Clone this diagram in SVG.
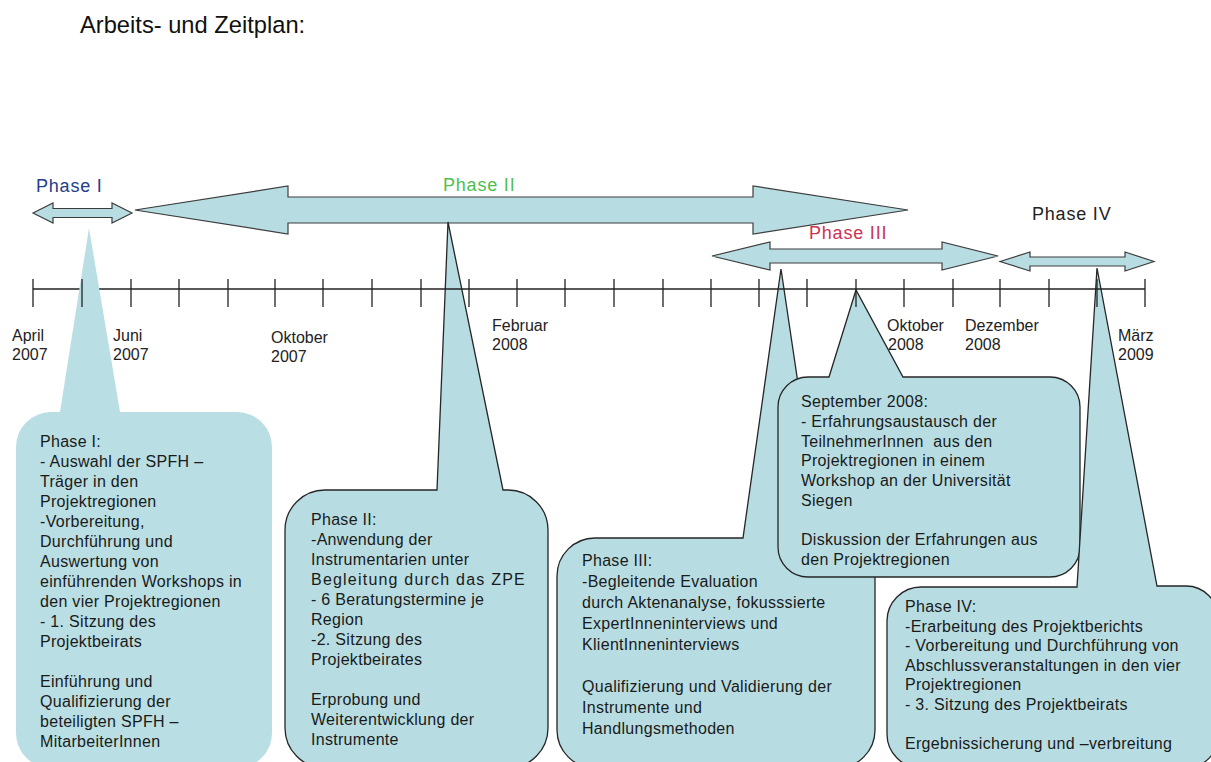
<svg xmlns="http://www.w3.org/2000/svg" width="1211" height="762" viewBox="0 0 1211 762">
  <style>
    text { font-family: "Liberation Sans", Arial, sans-serif; }
    .title { font-size: 23.7px; fill: #111; }
    .phase { font-size: 18px; letter-spacing: 0.8px; }
    .month { font-size: 16px; fill: #222; }
    .body { font-size: 16px; fill: #1a1a1a; letter-spacing: 0.3px; }
    .arrow { fill: #B7DDE2; stroke: #3c3c3c; stroke-width: 1.2; stroke-linejoin: miter; }
    .callout { fill: #B7DDE2; stroke: #262626; stroke-width: 1.3; }
    .callout-soft { fill: #B9DEE3; stroke: none; }
    .axis { stroke: #222; stroke-width: 1.3; fill: none; }
  </style>
  <rect width="1211" height="762" fill="#ffffff"/>

  <text id="title" class="title" x="80" y="33">Arbeits- und Zeitplan:</text>

  <!-- phase duration arrows -->
  <g id="phase1-arrow">
    <path class="arrow" d="M33,213 L53,203 L53,208.5 L112,208.5 L112,203 L132,213 L112,223 L112,217.5 L53,217.5 L53,223 Z"/>
  </g>
  <g id="phase2-arrow">
    <path class="arrow" d="M135,210 L288,186 L288,197 L753,197 L753,186 L908,210 L753,234 L753,223 L288,223 L288,234 Z"/>
  </g>
  <g id="phase3-arrow">
    <path class="arrow" d="M712,256 L770,242 L770,249 L942,249 L942,242 L998,256 L942,270 L942,263 L770,263 L770,270 Z"/>
  </g>
  <g id="phase4-arrow">
    <path class="arrow" d="M1000,261.5 L1030,252 L1030,257 L1125,257 L1125,252 L1154,261.5 L1125,271 L1125,266 L1030,266 L1030,271 Z"/>
  </g>

  <!-- callouts with outline -->
  <g id="callout-phase2">
    <path class="callout" d="M325,490 H437 L448,222 L503,490 H508 A40,40 0 0 1 548,530 V728 A40,40 0 0 1 508,768 H325 A40,40 0 0 1 285,728 V530 A40,40 0 0 1 325,490 Z"/>
    <text class="body" x="311" y="525">
      <tspan x="311" dy="0">Phase II:</tspan>
      <tspan x="311" dy="20">-Anwendung der</tspan>
      <tspan x="311" dy="20">Instrumentarien unter</tspan>
      <tspan x="311" dy="20" textLength="214" lengthAdjust="spacing">Begleitung durch das ZPE</tspan>
      <tspan x="311" dy="20">- 6 Beratungstermine je</tspan>
      <tspan x="311" dy="20">Region</tspan>
      <tspan x="311" dy="20">-2. Sitzung des</tspan>
      <tspan x="311" dy="20">Projektbeirates</tspan>
      <tspan x="311" dy="40">Erprobung und</tspan>
      <tspan x="311" dy="20">Weiterentwicklung der</tspan>
      <tspan x="311" dy="20">Instrumente</tspan>
    </text>
  </g>

  <g id="callout-phase3">
    <path class="callout" d="M595,538 H743 L781,269 L821,538 H837 A38,38 0 0 1 875,576 V730 A38,38 0 0 1 837,768 H595 A38,38 0 0 1 557,730 V576 A38,38 0 0 1 595,538 Z"/>
    <text class="body" x="582" y="566">
      <tspan x="582" dy="0">Phase III:</tspan>
      <tspan x="582" dy="21">-Begleitende Evaluation</tspan>
      <tspan x="582" dy="21">durch Aktenanalyse, fokusssierte</tspan>
      <tspan x="582" dy="21">ExpertInneninterviews und</tspan>
      <tspan x="582" dy="21">KlientInneninterviews</tspan>
      <tspan x="582" dy="42">Qualifizierung und Validierung der</tspan>
      <tspan x="582" dy="21">Instrumente und</tspan>
      <tspan x="582" dy="21">Handlungsmethoden</tspan>
    </text>
  </g>

  <g id="callout-september">
    <path class="callout" d="M808,377 H829 L856,290 L903,377 H1050 A30,30 0 0 1 1080,407 V547 A30,30 0 0 1 1050,577 H808 A30,30 0 0 1 778,547 V407 A30,30 0 0 1 808,377 Z"/>
    <text class="body" x="801" y="407">
      <tspan x="801" dy="0">September 2008:</tspan>
      <tspan x="801" dy="19.75">- Erfahrungsaustausch der</tspan>
      <tspan x="801" dy="19.75">TeilnehmerInnen&#160; aus den</tspan>
      <tspan x="801" dy="19.75">Projektregionen in einem</tspan>
      <tspan x="801" dy="19.75">Workshop an der Universität</tspan>
      <tspan x="801" dy="19.75">Siegen</tspan>
      <tspan x="801" dy="39.5">Diskussion der Erfahrungen aus</tspan>
      <tspan x="801" dy="19.75">den Projektregionen</tspan>
    </text>
  </g>

  <g id="callout-phase4">
    <path class="callout" d="M921,587 H1077 L1097,268 L1157,586 H1186 A32,32 0 0 1 1218,619 V736 A32,32 0 0 1 1186,768 H921 A34,34 0 0 1 887,734 V621 A34,34 0 0 1 921,587 Z"/>
    <text class="body" x="905" y="612">
      <tspan x="905" dy="0">Phase IV:</tspan>
      <tspan x="905" dy="19.5">-Erarbeitung des Projektberichts</tspan>
      <tspan x="905" dy="19.5">- Vorbereitung und Durchführung von</tspan>
      <tspan x="905" dy="19.5">Abschlussveranstaltungen in den vier</tspan>
      <tspan x="905" dy="19.5">Projektregionen</tspan>
      <tspan x="905" dy="19.5">- 3. Sitzung des Projektbeirats</tspan>
      <tspan x="905" dy="39">Ergebnissicherung und –verbreitung</tspan>
    </text>
  </g>

  <!-- month axis -->
  <g id="timeline-axis">
    <line class="axis" x1="33" y1="289" x2="1145" y2="289"/>
  </g>

  <!-- phase I callout, drawn without outline over the axis line -->
  <g id="callout-phase1">
    <path class="callout-soft" d="M51,412 H60 L89,228 L120,412 H237 A35,35 0 0 1 272,447 V733 A35,35 0 0 1 237,768 H51 A35,35 0 0 1 16,733 V447 A35,35 0 0 1 51,412 Z"/>
    <text class="body" x="40" y="447">
      <tspan x="40" dy="0">Phase I:</tspan>
      <tspan x="40" dy="20">- Auswahl der SPFH –</tspan>
      <tspan x="40" dy="20">Träger in den</tspan>
      <tspan x="40" dy="20">Projektregionen</tspan>
      <tspan x="40" dy="20">-Vorbereitung,</tspan>
      <tspan x="40" dy="20">Durchführung und</tspan>
      <tspan x="40" dy="20">Auswertung von</tspan>
      <tspan x="40" dy="20">einführenden Workshops in</tspan>
      <tspan x="40" dy="20">den vier Projektregionen</tspan>
      <tspan x="40" dy="20">- 1. Sitzung des</tspan>
      <tspan x="40" dy="20">Projektbeirats</tspan>
      <tspan x="40" dy="40">Einführung und</tspan>
      <tspan x="40" dy="20">Qualifizierung der</tspan>
      <tspan x="40" dy="20">beteiligten SPFH –</tspan>
      <tspan x="40" dy="20">MitarbeiterInnen</tspan>
    </text>
  </g>

  <!-- monthly ticks, April 2007 to March 2009 -->
  <g id="timeline-ticks">
    <path class="axis" d="M33,279V307 M82,279V307 M131,279V307 M179,279V307 M228,279V307 M275,279V307 M323,279V307 M372,279V307 M421,279V307 M469,279V307 M517,279V307 M565,279V307 M614,279V307 M663,279V307 M711,279V307 M759,279V307 M807,279V307 M856,279V307 M904,279V307 M953,279V307 M1000,279V307 M1049,279V307 M1097,279V307 M1145,279V307"/>
  </g>

  <g id="month-labels">
    <text class="month" x="12" y="341"><tspan x="12">April</tspan><tspan x="12" dy="19">2007</tspan></text>
    <text class="month" x="113" y="341"><tspan x="113">Juni</tspan><tspan x="113" dy="19">2007</tspan></text>
    <text class="month" x="271" y="343"><tspan x="271">Oktober</tspan><tspan x="271" dy="19">2007</tspan></text>
    <text class="month" x="492" y="331"><tspan x="492">Februar</tspan><tspan x="492" dy="19">2008</tspan></text>
    <text class="month" x="887" y="331"><tspan x="887">Oktober</tspan><tspan x="888" dy="19">2008</tspan></text>
    <text class="month" x="965" y="331"><tspan x="965">Dezember</tspan><tspan x="965" dy="19">2008</tspan></text>
    <text class="month" x="1118" y="341"><tspan x="1118">März</tspan><tspan x="1118" dy="19">2009</tspan></text>
  </g>

  <g id="phase-labels">
    <text class="phase" x="36" y="192" fill="#24408A">Phase I</text>
    <text class="phase" x="443" y="191" fill="#4FC04F">Phase II</text>
    <text class="phase" x="809" y="239" fill="#CC3355">Phase III</text>
    <text class="phase" x="1032" y="220" fill="#222222">Phase IV</text>
  </g>
</svg>
